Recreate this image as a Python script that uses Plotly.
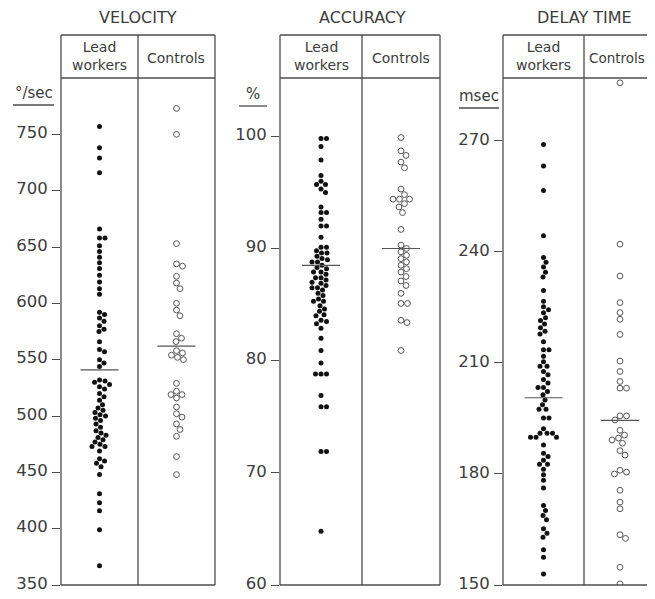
import plotly.graph_objects as go

# ---------------- data ----------------
titles = ["VELOCITY", "ACCURACY", "DELAY TIME"]
units = ["°/sec", "%", "msec"]
group_labels = ["Lead<br>workers", "Controls"]

velocity_lead = [757, 738, 729, 716, 666, 658, 658, 651, 646, 641, 636, 631, 625, 619, 613, 608,
                 592, 590, 587, 584, 580, 577, 575, 566, 559, 557, 550, 547, 544, 532, 531, 530,
                 528, 526, 524, 520, 517, 514, 510, 507, 505, 503, 501, 500, 498, 496, 493, 490,
                 487, 485, 483, 481, 479, 477, 475, 473, 473, 469, 462, 460, 458, 455, 448, 431,
                 423, 416, 399, 367]
velocity_ctrl = [773, 750, 653, 635, 633, 624, 618, 613, 600, 594, 589, 573, 569, 566, 558, 556,
                 554, 552, 550, 529, 522, 519, 519, 516, 508, 502, 499, 493, 488, 482, 464, 448]

accuracy_lead = [99.8, 99.8, 99.1, 97.9, 96.5, 96.0, 95.7, 95.7, 95.3, 95.0, 93.7, 93.2, 93.2,
                 92.6, 92.0, 92.0, 91.0,
                 90.1, 90.1, 89.8, 89.6, 89.6, 89.3, 89.1, 89.0, 88.8, 88.8, 88.5, 88.3, 88.2,
                 87.9, 87.9, 87.7, 87.4, 87.4, 87.2, 87.0, 86.9, 86.7, 86.5, 86.5, 86.3, 86.0,
                 85.8, 85.5, 85.3, 85.3, 84.9, 84.6, 84.4, 84.1, 84.0, 83.6, 83.5, 83.3, 82.9,
                 82.0, 80.9, 79.8, 78.8, 78.8, 78.8, 76.9, 75.9, 75.9, 71.9, 71.9, 64.8]
accuracy_ctrl = [99.9, 98.7, 98.3, 97.7, 97.2, 95.3, 94.8, 94.4, 94.4, 94.4, 94.0, 93.7, 93.2,
                 91.7, 90.3, 90.0, 89.7, 89.4, 89.1, 88.8, 88.5, 88.2, 87.9, 87.5, 87.1, 86.7,
                 86.0, 85.1, 85.1, 83.6, 83.4, 80.9]

delay_lead = [269.0, 263.2, 256.6, 244.4, 238.5, 237.2, 235.9, 234.5, 233.2, 229.6, 226.7, 225.2,
              224.4, 223.6, 222.2, 221.5, 220.5, 219.5, 218.6, 217.8, 215.7, 213.6, 213.6, 211.8,
              210.3, 209.1, 209.1, 207.7, 206.8, 205.5, 204.6, 203.4, 203.4, 202.3, 201.4, 200.0,
              198.7, 197.5, 197.5, 195.1, 195.1, 192.2, 191.0, 191.0, 191.0, 189.9, 189.9, 189.9,
              187.8, 185.6, 184.7, 183.7, 182.6, 182.6, 181.3, 179.8, 178.3, 176.2, 171.5, 170.1,
              168.8, 167.6, 165.2, 164.0, 162.9, 159.5, 157.5, 153.0]
delay_ctrl = [285.7, 242.1, 233.5, 226.3, 223.6, 221.8, 217.7, 210.5, 207.7, 205.0, 203.2, 203.2,
              195.7, 195.7, 194.6, 191.8, 190.5, 189.7, 189.2, 188.3, 186.3, 185.1, 181.0, 180.5,
              180.0, 175.6, 172.4, 170.6, 163.6, 162.6, 154.8, 150.3]

means_velocity = [541, 562]
means_accuracy = [88.5, 90.0]
means_delay = [200.6, 194.5]

velocity_ticks = [350, 400, 450, 500, 550, 600, 650, 700, 750]
accuracy_ticks = [60, 70, 80, 90, 100]
delay_ticks = [150, 180, 210, 240, 270]

# ---------------- layout geometry (page pixels) ----------------
PAGE_W, PAGE_H = 655, 599
OFF = 8                      # default body margin of the html page
W, H = PAGE_W - 2 * OFF, PAGE_H - 2 * OFF
RIGHT = OFF + W              # last drawable page pixel
TOP_BOX, HEAD_BOT, BOT = 35, 78, 585
panels = [
    dict(x0=61, div=138, x1=215, yr=[350, 800], data=(velocity_lead, velocity_ctrl),
         means=means_velocity, ticks=velocity_ticks, ux=(13, 54), uy=93),
    dict(x0=280, div=362, x1=440, yr=[60, 105.2], data=(accuracy_lead, accuracy_ctrl),
         means=means_accuracy, ticks=accuracy_ticks, ux=(239, 267), uy=94),
    dict(x0=503, div=584, x1=656, yr=[150, 287], data=(delay_lead, delay_ctrl),
         means=means_delay, ticks=delay_ticks, ux=(459, 499), uy=96),
]

INK = "#3c3c3c"
LINE = "#4d4d4d"
FONT = "DejaVu Sans"


def px(xp):
    return (xp - OFF) / W


def py(yp):
    return 1 - (yp - OFF) / H


def swarm(values, ppu_y, ppu_x, d):
    """Horizontal offsets (in axis units) so dots do not overlap."""
    order = sorted(range(len(values)), key=lambda i: -values[i])
    placed = []
    out = [0.0] * len(values)
    cands = [0.0]
    for s in range(1, 40):
        cands += [s * 0.5, -s * 0.5]
    for i in order:
        yp = values[i] * ppu_y
        for c in cands:
            if all((c - a) ** 2 + (yp - b) ** 2 >= d * d for a, b in placed):
                placed.append((c, yp))
                out[i] = c / ppu_x
                break
    return out


fig = go.Figure()
shapes = []
annotations = []
plot_h = BOT - HEAD_BOT

for k, p in enumerate(panels):
    xend = min(p["x1"], RIGHT)
    span = xend - p["x0"]
    ppu_x = span
    c_lead = ((p["x0"] + p["div"]) / 2 - p["x0"]) / span
    c_ctrl = ((p["div"] + p["x1"]) / 2 - p["x0"]) / span
    half = 19 / span
    ppu_y = plot_h / (p["yr"][1] - p["yr"][0])
    sfx = "" if k == 0 else str(k + 1)
    xa, ya = "x" + sfx, "y" + sfx
    lead, ctrl = p["data"]

    offs = swarm(lead, ppu_y, ppu_x, 5.4)
    fig.add_trace(go.Scatter(
        x=[c_lead + o for o in offs], y=lead, mode="markers", xaxis=xa, yaxis=ya,
        marker=dict(size=5, color="#111111", line=dict(width=0)), showlegend=False,
        hoverinfo="y"))
    offs = swarm(ctrl, ppu_y, ppu_x, 6.4)
    fig.add_trace(go.Scatter(
        x=[c_ctrl + o for o in offs], y=ctrl, mode="markers", xaxis=xa, yaxis=ya,
        marker=dict(size=5.8, symbol="circle-open", color="#555555", line=dict(width=1)),
        showlegend=False, hoverinfo="y"))
    for c, m in zip([c_lead, c_ctrl], p["means"]):
        fig.add_trace(go.Scatter(
            x=[c - half, c + half], y=[m, m], mode="lines", xaxis=xa, yaxis=ya,
            line=dict(color="#555555", width=1.2), showlegend=False, hoverinfo="skip"))

    fig.update_layout({
        "xaxis" + sfx: dict(domain=[px(p["x0"]), px(xend)], range=[0, 1], visible=False,
                            fixedrange=True, automargin=False),
        "yaxis" + sfx: dict(domain=[py(BOT), py(HEAD_BOT)], range=p["yr"], anchor=xa,
                            tickvals=p["ticks"], ticks="outside", ticklen=8, tickwidth=1.3,
                            tickcolor=LINE, showgrid=False, zeroline=False, showline=False,
                            tickfont=dict(family=FONT, size=16.5, color=INK),
                            ticklabelstandoff=1, ticklabeloverflow="allow",
                            ticklabelshift=-2, automargin=False),
    })

    # frame lines
    lw = dict(color=LINE, width=1.3)
    for yy in (TOP_BOX, HEAD_BOT, BOT):
        shapes.append(dict(type="line", xref="paper", yref="paper", x0=px(p["x0"]), x1=px(xend),
                           y0=py(yy), y1=py(yy), line=lw))
    for xx in (p["x0"], p["div"], p["x1"]):
        if xx <= RIGHT:
            shapes.append(dict(type="line", xref="paper", yref="paper", x0=px(xx), x1=px(xx),
                               y0=py(TOP_BOX), y1=py(BOT), line=lw))
    # unit underline
    shapes.append(dict(type="line", xref="paper", yref="paper", x0=px(p["ux"][0]),
                       x1=px(p["ux"][1]), y0=py(p["uy"] + 12), y1=py(p["uy"] + 12),
                       line=dict(color=LINE, width=1.3)))

    # texts
    lead_cx = (p["x0"] + p["div"]) / 2
    ctrl_cx = (p["div"] + p["x1"]) / 2
    annotations.append(dict(text=titles[k], xref="paper", yref="paper",
                            x=px(p["div"]), y=py(17), showarrow=False,
                            xanchor="center", yanchor="middle",
                            font=dict(family=FONT, size=16, color=INK)))
    annotations.append(dict(text=units[k], xref="paper", yref="paper",
                            x=px((p["ux"][0] + p["ux"][1]) / 2), y=py(p["uy"]), showarrow=False,
                            xanchor="center", yanchor="middle",
                            font=dict(family=FONT, size=15, color=INK)))
    annotations.append(dict(text=group_labels[0], xref="paper", yref="paper",
                            x=px(lead_cx), y=py(56.5), showarrow=False,
                            xanchor="center", yanchor="middle",
                            font=dict(family=FONT, size=14, color=INK)))
    if p["x1"] > RIGHT:
        annotations.append(dict(text=group_labels[1], xref="paper", yref="paper",
                                x=1, y=py(58), showarrow=False,
                                xanchor="right", yanchor="middle",
                                font=dict(family=FONT, size=13.5, color=INK)))
    else:
        annotations.append(dict(text=group_labels[1], xref="paper", yref="paper",
                                x=px(ctrl_cx), y=py(58), showarrow=False,
                                xanchor="center", yanchor="middle",
                                font=dict(family=FONT, size=14, color=INK)))

fig.update_layout(
    width=W, height=H, margin=dict(l=0, r=0, t=0, b=0, autoexpand=False),
    paper_bgcolor="#ffffff", plot_bgcolor="rgba(0,0,0,0)",
    shapes=shapes, annotations=annotations, showlegend=False,
)

fig.write_html("out.html")
